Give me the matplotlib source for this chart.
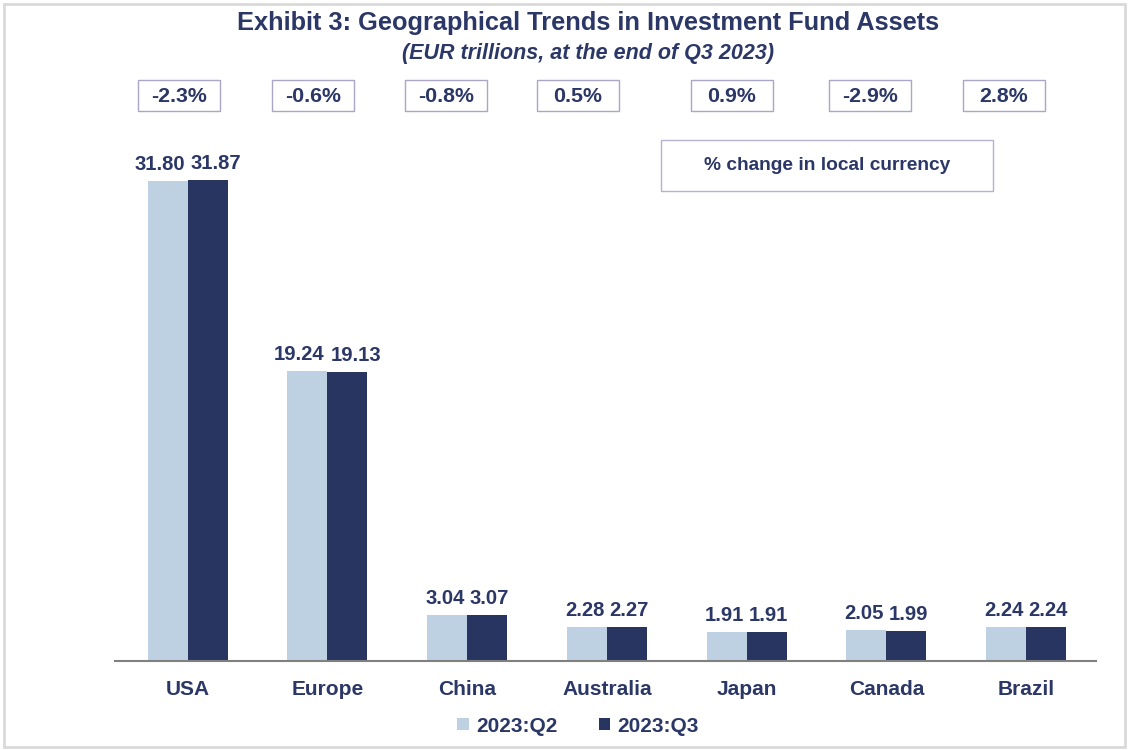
import numpy as np
from matplotlib import pyplot as plt
from matplotlib.patches import Rectangle

regions = ['USA', 'Europe', 'China', 'Australia', 'Japan', 'Canada', 'Brazil']
q2 = [31.80, 19.24, 3.04, 2.28, 1.91, 2.05, 2.24]
q3 = [31.87, 19.13, 3.07, 2.27, 1.91, 1.99, 2.24]
pct_change = ['-2.3%', '-0.6%', '-0.8%', '0.5%', '0.9%', '-2.9%', '2.8%']
pct_x = [179, 313, 446, 578, 732, 870, 1004]   # box centres in px

light = '#bdd1e2'
dark = '#293561'
txt = '#2b3766'
W, H = 1132, 750
plt.rcParams['font.family'] = ['Liberation Sans', 'DejaVu Sans']

fig = plt.figure(figsize=(W / 100, H / 100), dpi=100)
ax = fig.add_axes([115 / W, 1 - 661 / H, 981 / W, 531 / H])

x = np.arange(len(regions))
bw = 0.286
b2 = ax.bar(x - bw / 2, q2, bw, color=light, label='2023:Q2')
b3 = ax.bar(x + bw / 2, q3, bw, color=dark, label='2023:Q3')
for bars, vals, side in ((b2, q2, -1), (b3, q3, 1)):
    for b, v in zip(bars, vals):
        # push the pair of labels apart a little so they don't collide
        dx = side * (6 if v >= 10 else 1.5)
        ax.annotate(f'{v:.2f}', (b.get_x() + b.get_width() / 2, v),
                    xytext=(dx, 5), textcoords='offset points',
                    ha='center', va='bottom', fontsize=14.6,
                    fontweight='bold', color=txt)

ax.set_xlim(-0.52, 6.5)
ax.set_ylim(0, 35.2)
ax.set_yticks([])
ax.set_xticks(x)
ax.set_xticklabels(regions, fontsize=15, fontweight='bold', color=txt)
ax.tick_params(axis='x', length=0, pad=14)
for s in ['top', 'right', 'left']:
    ax.spines[s].set_visible(False)
ax.spines['bottom'].set_color('#808080')
ax.spines['bottom'].set_linewidth(1.5)

fig.text(588 / W, 1 - 23 / H, 'Exhibit 3: Geographical Trends in Investment Fund Assets',
         ha='center', va='center', fontsize=18.3, fontweight='bold', color=txt)
fig.text(588 / W, 1 - 53 / H, '(EUR trillions, at the end of Q3 2023)',
         ha='center', va='center', fontsize=15.5, fontweight='bold',
         style='italic', color=txt)

bw_px, bh_px = 82, 31
for px, lab in zip(pct_x, pct_change):
    fig.add_artist(Rectangle(((px - bw_px / 2) / W, 1 - 111 / H), bw_px / W, bh_px / H,
                             transform=fig.transFigure, fc='white', ec='#a9a7c4', lw=1))
    fig.text(px / W, 1 - 96 / H, lab, ha='center', va='center', fontsize=15.4,
             fontweight='bold', color=txt)

fig.add_artist(Rectangle((661 / W, 1 - 191 / H), 332 / W, 51 / H,
                         transform=fig.transFigure, fc='white', ec='#b4b2cc', lw=1))
fig.text(827 / W, 1 - 166 / H, '% change in local currency', ha='center',
         va='center', fontsize=13.8, fontweight='bold', color=txt)

fig.legend(loc='center', bbox_to_anchor=(578 / W, 1 - 726 / H), ncol=2,
           frameon=False, handlelength=0.55, handleheight=0.55,
           columnspacing=2.0, handletextpad=0.35,
           prop=dict(size=15, weight='bold'), labelcolor=txt)

fig.add_artist(Rectangle((4 / W, 3 / H), 1121 / W, 743 / H,
                         transform=fig.transFigure, fill=False, ec='#d9d9d9', lw=2))

fig.savefig('out.png', dpi=100)
